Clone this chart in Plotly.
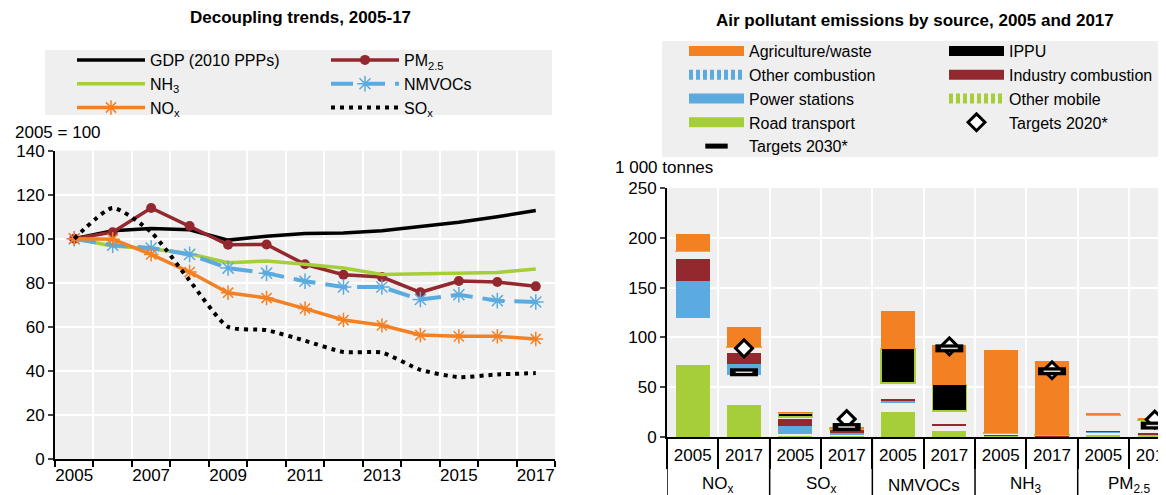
import plotly.graph_objects as go

FONT = "Liberation Sans, Arial, sans-serif"
# the page body adds an 8 px margin, so the figure is 8 px smaller than the window
FW, FH = 1158, 487

# ---- left panel: decoupling trends, index 2005 = 100
years = list(range(2005, 2018))
gdp = [100, 103.7, 104.7, 104.1, 99.4, 101.2, 102.4, 102.6, 103.7, 105.5, 107.5, 110.0, 112.8]
pm25 = [100, 103.0, 114.0, 105.8, 97.3, 97.4, 88.4, 83.7, 82.6, 75.7, 80.8, 80.4, 78.4]
nh3 = [100, 96.7, 95.5, 93.2, 89.1, 89.9, 88.4, 86.7, 83.8, 84.1, 84.6, 84.7, 86.3]
nmvocs = [100, 97.1, 95.8, 92.9, 86.7, 84.4, 80.7, 78.1, 78.1, 72.4, 74.6, 71.9, 71.3]
nox = [100, 99.8, 92.9, 84.9, 75.5, 73.1, 68.3, 63.1, 60.7, 56.3, 55.7, 55.7, 54.5]
sox = [100, 114.0, 103.0, 81.0, 60.0, 58.5, 53.7, 48.6, 48.3, 40.5, 37.2, 38.4, 39.0]

# ---- right panel: emissions by source, 1 000 tonnes
pollutants = ["NO<sub>x</sub>", "SO<sub>x</sub>", "NMVOCs", "NH<sub>3</sub>", "PM<sub>2.5</sub>"]
bar_years = ["2005", "2017"]
road = [72, 32, 0.3, 0.3, 25, 6, 0.8, 0.5, 2.5, 1.5]
other_mobile = [47, 30, 3.0, 2.0, 10, 5.5, 0.2, 0.2, 2.5, 1.3]
power = [38, 11.5, 7.7, 2.0, 1.5, 0.4, 0.2, 0.1, 0.6, 0.2]
industry = [22, 11, 6.7, 2.4, 0.8, 0.8, 0.2, 0.1, 0.4, 0.2]
other_comb = [7, 5.5, 2.3, 1.4, 17, 13.5, 2.2, 0.8, 16, 13.5]
ippu = [0.3, 0.3, 4.3, 0.7, 34.5, 26.5, 0.2, 0.2, 0.5, 0.5]
agri = [18, 20, 0.6, 0.6, 38, 40, 84, 74, 1.5, 1.2]
target_2020 = [89, 18, 91, 67, 17.5]
target_2030 = [65, 10, 89, 66, 11.5]

ORANGE = "#F48024"
RED = "#93282E"
BLUE = "#5BAAE0"
GREEN = "#A6CE39"
BG = "#EFEFEF"


def px(x):
    return (x - 8) / FW


def py(y):
    return 1 - (y - 8) / FH


fig = go.Figure()

# left lines: column 1 of the legend in "legend", column 2 in "legend3"
fig.add_trace(go.Scatter(x=years, y=gdp, name="GDP (2010 PPPs)", mode="lines",
                         line=dict(color="black", width=3.5), legend="legend", legendrank=1))
fig.add_trace(go.Scatter(x=years, y=pm25, name="PM<sub>2.5</sub>", mode="lines+markers",
                         line=dict(color=RED, width=3.5), marker=dict(size=10, color=RED),
                         legend="legend3", legendrank=1))
fig.add_trace(go.Scatter(x=years, y=nh3, name="NH<sub>3</sub>", mode="lines",
                         line=dict(color=GREEN, width=3.5), legend="legend", legendrank=2))
fig.add_trace(go.Scatter(x=years, y=nmvocs, name="NMVOCs", mode="lines+markers",
                         line=dict(color=BLUE, width=4, dash="22px,10px"),
                         marker=dict(symbol="asterisk-open", size=13, line=dict(color=BLUE, width=1.5)),
                         legend="legend3", legendrank=2))
fig.add_trace(go.Scatter(x=years, y=nox, name="NO<sub>x</sub>", mode="lines+markers",
                         line=dict(color=ORANGE, width=3.5),
                         marker=dict(symbol="asterisk-open", size=12, line=dict(color=ORANGE, width=1.5)),
                         legend="legend", legendrank=3))
fig.add_trace(go.Scatter(x=years, y=sox, name="SO<sub>x</sub>", mode="lines",
                         line=dict(color="black", width=4, dash="4px,5px", shape="spline", smoothing=0.6),
                         legend="legend3", legendrank=3))

# right stacked bars (bottom to top), one bar per pollutant and year
bar_labels = [y for _ in pollutants for y in bar_years]
bar_pos = list(range(len(bar_labels)))
sources = [
    ("Road transport", road, GREEN, False, "legend2", 4),
    ("Other mobile", other_mobile, GREEN, True, "legend4", 3),
    ("Power stations", power, BLUE, False, "legend2", 3),
    ("Industry combustion", industry, RED, False, "legend4", 2),
    ("Other combustion", other_comb, BLUE, True, "legend2", 2),
    ("IPPU", ippu, "black", False, "legend4", 1),
    ("Agriculture/waste", agri, ORANGE, False, "legend2", 1),
]
for name, vals, col, hatched, leg, rank in sources:
    fill = "rgba(0,0,0,0)" if hatched else col
    line = dict(color=GREEN, width=1.5) if name == "IPPU" else dict(width=0)
    fig.add_trace(go.Bar(x=bar_pos, y=vals, name=name, marker=dict(color=fill, line=line),
                         xaxis="x2", yaxis="y2", showlegend=False))
    # wide legend swatch
    fig.add_trace(go.Scatter(x=[None], y=[None], name=name, mode="lines",
                             line=dict(color=col, width=12, dash="4px,3px" if hatched else "solid"),
                             legend=leg, legendrank=rank))

pos_2017 = [i for i, y in zip(bar_pos, bar_labels) if y == "2017"]
fig.add_trace(go.Scatter(x=pos_2017, y=target_2020, name="Targets 2020*", mode="markers",
                         marker=dict(symbol="diamond", size=13, color="white",
                                     line=dict(color="black", width=3)),
                         xaxis="x2", yaxis="y2", legend="legend4", legendrank=4))
fig.add_trace(go.Scatter(x=pos_2017, y=target_2030, name="Targets 2030*", mode="markers",
                         marker=dict(symbol="line-ew", size=20, line=dict(color="black", width=8)),
                         xaxis="x2", yaxis="y2", legend="legend2", legendrank=5))
fig.add_trace(go.Scatter(x=pos_2017, y=target_2030, mode="markers", showlegend=False,
                         marker=dict(symbol="line-ew", size=12, line=dict(color="#d8d8d8", width=1.5)),
                         xaxis="x2", yaxis="y2"))

# pollutant group labels and dividers under the bar axis
n_per = len(bar_years)
annotations = [
    dict(text=p, x=g * n_per + (n_per - 1) / 2, y=py(485), xref="x2", yref="paper",
         showarrow=False, font=dict(size=17), xanchor="center", yanchor="middle")
    for g, p in enumerate(pollutants)
]
shapes = [
    dict(type="line", xref="x2", yref="paper", x0=g * n_per - 0.5, x1=g * n_per - 0.5,
         y0=py(437), y1=py(500), line=dict(color="black", width=1.5))
    for g in range(len(pollutants) + 1)
]
shapes += [
    dict(type="rect", xref="paper", yref="paper", x0=px(45), x1=px(552), y0=py(115), y1=py(50),
         fillcolor=BG, line=dict(width=0), layer="below"),
    dict(type="rect", xref="paper", yref="paper", x0=px(662), x1=1, y0=py(157), y1=py(41),
         fillcolor=BG, line=dict(width=0), layer="below"),
]
annotations += [
    dict(text="<b>Decoupling trends, 2005-17</b>", x=px(300), y=py(18), xref="paper",
         yref="paper", showarrow=False, font=dict(size=17), xanchor="center", yanchor="middle"),
    dict(text="<b>Air pollutant emissions by source, 2005 and 2017</b>", x=px(915), y=py(20),
         xref="paper", yref="paper", showarrow=False, font=dict(size=17),
         xanchor="center", yanchor="middle"),
    dict(text="2005 = 100", x=px(13), y=py(133), xref="paper", yref="paper",
         xanchor="left", yanchor="middle", showarrow=False, font=dict(size=17)),
    dict(text="1 000 tonnes", x=px(613), y=py(167), xref="paper", yref="paper",
         xanchor="left", yanchor="middle", showarrow=False, font=dict(size=17)),
]

axis_font = dict(family=FONT, size=17, color="black")


def legend_at(x, y, iw):
    return dict(orientation="v", x=px(x), y=py(y), xanchor="left", yanchor="top",
                bgcolor="rgba(0,0,0,0)", font=dict(family=FONT, size=16),
                traceorder="normal", itemwidth=iw)


fig.update_layout(
    width=FW, height=FH,
    margin=dict(l=0, r=0, t=0, b=0, autoexpand=False),
    paper_bgcolor="white", plot_bgcolor=BG,
    font=dict(family=FONT, size=17, color="black"),
    barmode="stack", bargap=0.34,
    xaxis=dict(domain=[px(55), px(555)], range=[2004.5, 2017.5], anchor="y",
               tickvals=years[::2], ticks="", showgrid=False, tickfont=axis_font,
               showline=True, linecolor="black", linewidth=2, zeroline=False,
               minor=dict(tickmode="linear", tick0=2004.5, dtick=1, ticks="outside", ticklen=6,
                          tickcolor="black", tickwidth=1.5, showgrid=True, gridcolor="white",
                          gridwidth=1.5)),
    yaxis=dict(domain=[py(459), py(150.7)], range=[0, 140], dtick=20, ticks="outside", anchor="x",
               ticklen=5, tickwidth=1.5, tickfont=axis_font, gridcolor="white", gridwidth=1.5,
               showline=True, linecolor="black", linewidth=2, zeroline=False),
    xaxis2=dict(domain=[px(667), 1], range=[-0.5, 9.22], anchor="y2",
                tickvals=bar_pos, ticktext=bar_labels, ticks="", ticklabelstandoff=2,
                ticklabeloverflow="allow",
                tickfont=axis_font, showgrid=False, zeroline=False,
                showline=True, linecolor="black", linewidth=2,
                minor=dict(tickmode="linear", tick0=-0.5, dtick=1, ticks="outside", ticklen=30,
                           tickcolor="black", tickwidth=1.5, showgrid=True, gridcolor="white",
                           gridwidth=1.5)),
    yaxis2=dict(domain=[py(437), py(188)], range=[0, 250], dtick=50, ticks="outside", anchor="x2",
                ticklen=5, tickwidth=1.5, tickfont=axis_font, gridcolor="white", gridwidth=1.5,
                showline=True, linecolor="black", linewidth=2, zeroline=False),
    legend=legend_at(72, 43, 68),
    legend3=legend_at(326, 43, 68),
    legend2=legend_at(684, 34, 55),
    legend4=legend_at(944, 34, 55),
    shapes=shapes,
    annotations=annotations,
)

fig.write_html("out.html")
